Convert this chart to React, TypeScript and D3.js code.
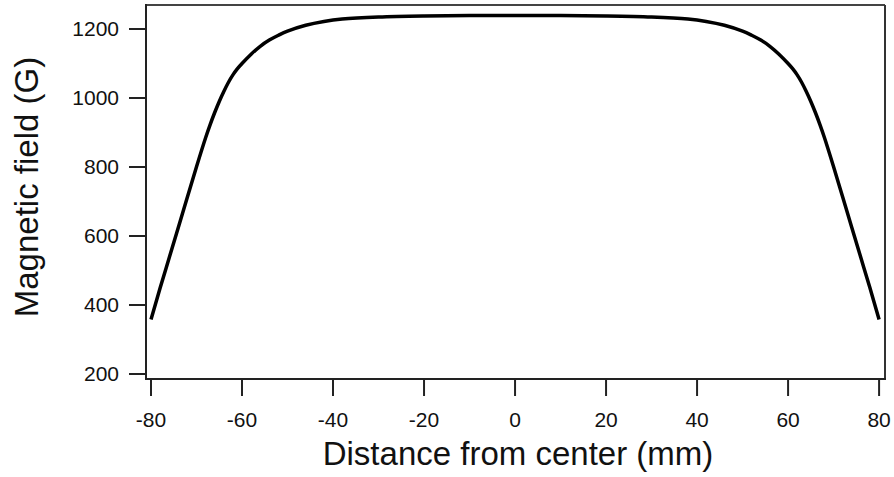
import React from "react";
import * as d3 from "d3";

const distances = [-80, -78, -76, -74, -72, -70, -68, -67, -66, -65, -64, -63, -62, -61, -60, -58, -56, -54, -52, -50, -46, -42, -38, -30, -20, -10, 0, 10, 20, 30, 38, 42, 46, 50, 52, 54, 56, 58, 60, 61, 62, 63, 64, 65, 66, 67, 68, 70, 72, 74, 76, 78, 80];
const fieldValues = [358, 449, 537, 625, 713, 801, 885, 923, 958, 990, 1019, 1045, 1067, 1085, 1100, 1127, 1150, 1168, 1182, 1194, 1211, 1222, 1229, 1235, 1238, 1239, 1239, 1239, 1238, 1235, 1229, 1222, 1211, 1194, 1182, 1168, 1150, 1127, 1100, 1085, 1067, 1045, 1019, 990, 958, 923, 885, 801, 713, 625, 537, 449, 358];
const xTicks = [-80, -60, -40, -20, 0, 20, 40, 60, 80];
const yTicks = [200, 400, 600, 800, 1000, 1200];

const W = 894;
const H = 477;
const L = 146, R = 885, T = 5, B = 379;
const FONT = "Liberation Sans, Arial, sans-serif";

export default function App() {
  const x = d3.scaleLinear().domain([-81.1, 81.3]).range([L, R]);
  const y = d3.scaleLinear().domain([185.5, 1269.6]).range([B, T]);
  const data = distances.map((d, i) => [d, fieldValues[i]] as [number, number]);
  const line = d3
    .line<[number, number]>()
    .x((d) => x(d[0]))
    .y((d) => y(d[1]))
    .curve(d3.curveCatmullRom.alpha(0.5));

  return (
    <svg
      width={W}
      height={H}
      style={{ position: "absolute", left: 0, top: 0, background: "#fff" }}
      fontFamily={FONT}
    >
      <rect x={0} y={0} width={W} height={H} fill="#fff" />
      {/* frame */}
      <line x1={L} x2={R} y1={T} y2={T} stroke="#444" strokeWidth={2} />
      <line x1={R} x2={R} y1={T} y2={B} stroke="#333" strokeWidth={2} />
      <line x1={L} x2={L} y1={T - 1} y2={B + 1} stroke="#222" strokeWidth={2} />
      <line x1={L - 1} x2={R + 1} y1={B} y2={B} stroke="#222" strokeWidth={2} />

      {/* y ticks */}
      {yTicks.map((t) => (
        <g key={"y" + t}>
          <line x1={L - 17} x2={L} y1={y(t)} y2={y(t)} stroke="#222" strokeWidth={2} />
          <text
            x={119}
            y={y(t)}
            dy="0.35em"
            textAnchor="end"
            fontSize={21}
            fill="#111"
          >
            {t}
          </text>
        </g>
      ))}

      {/* x ticks */}
      {xTicks.map((t) => (
        <g key={"x" + t}>
          <line x1={x(t)} x2={x(t)} y1={B} y2={B + 17} stroke="#222" strokeWidth={2} />
          <text x={x(t)} y={427} textAnchor="middle" fontSize={21} fill="#111">
            {t}
          </text>
        </g>
      ))}

      {/* curve */}
      <path d={line(data) || ""} fill="none" stroke="#000" strokeWidth={3.5} strokeLinejoin="round" strokeLinecap="butt" />

      {/* axis titles */}
      <text x={518} y={465} textAnchor="middle" fontSize={33} fill="#111">
        Distance from center (mm)
      </text>
      <text
        transform={`translate(38, 187) rotate(-90)`}
        textAnchor="middle"
        fontSize={33}
        fill="#111"
      >
        Magnetic field (G)
      </text>
    </svg>
  );
}
